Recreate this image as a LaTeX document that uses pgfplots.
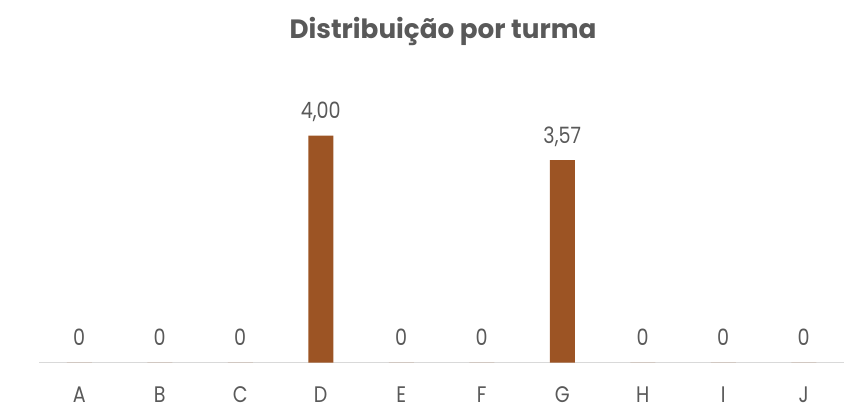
\documentclass[border=0pt]{standalone}
\usepackage{pgfplots}
\pgfplotsset{compat=1.18}
\usepackage{pgfplotstable}
\usepackage{fontspec}
\setmainfont{Poppins}
\definecolor{barc}{HTML}{9C5424}
\definecolor{txt}{HTML}{595959}
\definecolor{axc}{HTML}{D9D9D9}
\pgfplotstableread{
x y lab
0 0    0
1 0    0
2 0    0
3 4.00 4,00
4 0    0
5 0    0
6 3.57 3,57
7 0    0
8 0    0
9 0    0
}\datatab
\begin{document}
\begin{tikzpicture}[x=1pt,y=1pt]
\path[use as bounding box] (0,0) rectangle (857,416);
\node[font=\fontsize{26.5}{30}\selectfont\bfseries, text=txt, anchor=base, xscale=0.99] at (443,377.7) {Distribuição por turma};
\begin{axis}[
  scale only axis,
  width=805pt, height=283.75pt,
  at={(39pt,53.3pt)}, anchor=south west,
  xmin=-0.5, xmax=9.5, ymin=0, ymax=5,
  axis x line*=bottom,
  axis y line=none,
  x axis line style={draw=axc, line width=1.3pt, -},
  xtick=data,
  xticklabels={A,B,C,D,E,F,G,H,I,J},
  major tick length=0pt,
  xticklabel style={font=\fontsize{22.5}{26}\selectfont, text=txt, anchor=base, yshift=-40pt, xscale=0.85, inner sep=0pt},
  ytick=\empty,
  clip=false,
]
\addplot[ybar, bar width=25pt, fill=barc, draw=none,
  nodes near coords=\pgfplotspointmeta,
  point meta=explicit symbolic,
  every node near coord/.append style={font=\fontsize{22.5}{26}\selectfont, text=txt, anchor=base, yshift=17pt, xscale=0.85, inner sep=0pt},
] table[x=x, y=y, meta=lab] {\datatab};
\end{axis}
\end{tikzpicture}
\end{document}
